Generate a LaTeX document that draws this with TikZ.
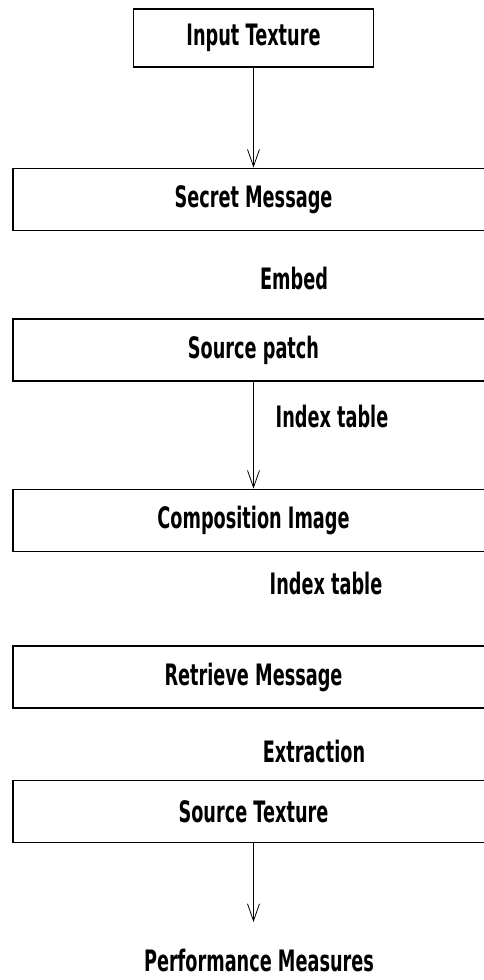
\documentclass[tikz,border=0pt]{standalone}
\usepackage{fontspec}
\setmainfont[FakeStretch=0.6]{DejaVu Sans}
\usetikzlibrary{arrows.meta, positioning}

\begin{document}
\begin{tikzpicture}[x=1pt,y=-1pt,->,>={Straight Barb[length=17pt,width=12pt]},line width=0.8pt,
every node/.style={font=\fontsize{29.5}{33}\selectfont\bfseries},
box/.style={draw,line width=1.8pt,minimum width=481pt,minimum height=62pt,inner sep=0pt},
lbl/.style={inner sep=0pt}]
\useasboundingbox (0,0) rectangle (484,980);
\node[box,minimum width=240pt,minimum height=58pt] (input) at (253.5,38) {Input Texture};
\node[box] (secret) at (253.5,199.5) {Secret Message};
\node[lbl] (embed) at (294,278) {Embed};
\node[box] (patch) at (253.5,350) {Source patch};
\node[lbl] (index1) at (332,416) {Index table};
\node[box] (comp) at (253.5,520.5) {Composition Image};
\node[lbl] (index2) at (326,583) {Index table};
\node[box] (retrieve) at (253.5,677) {Retrieve Message};
\node[lbl] (extract) at (314,751) {Extraction};
\node[box] (srctex) at (253.5,811.5) {Source Texture};
\node[lbl] (perf) at (259,960) {Performance Measures};
\coordinate (perfin) at (253.5,922);
\draw (input) -- (secret);
\draw (patch) -- (comp);
\draw (srctex) -- (perfin);
\end{tikzpicture}
\end{document}
